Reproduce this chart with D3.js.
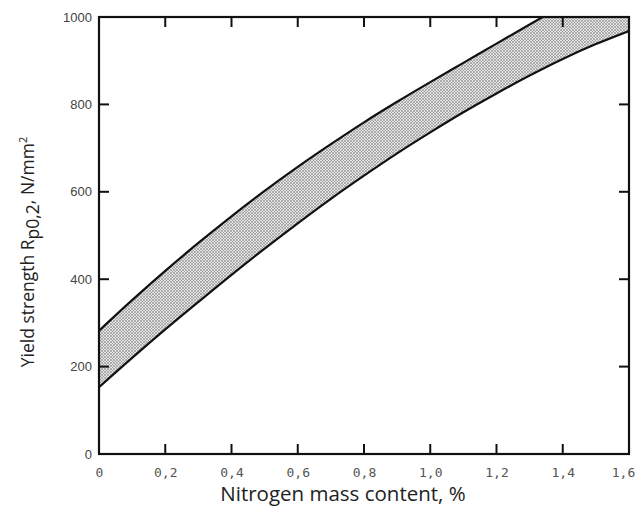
<!DOCTYPE html>
<html>
<head>
<meta charset="utf-8">
<script src="https://cdn.jsdelivr.net/npm/d3@7"></script>
<style>
  body { margin: 0; background: #fff; }
</style>
</head>
<body>
<div id="chart"></div>
<script>
// nitrogen content (%) and the two bounds of the yield strength band (N/mm2)
const nitrogen = [0, 0.1, 0.2, 0.3, 0.4, 0.5, 0.6, 0.7, 0.8, 0.9, 1.0, 1.1, 1.2, 1.3, 1.4, 1.5, 1.6];
const upperBound = [282, 352, 419, 483, 544, 602, 657, 709, 759, 806, 851, 895, 939, 983, 1026, 1069, 1112];
const lowerBound = [153, 220, 285, 348, 410, 470, 528, 584, 637, 688, 736, 782, 825, 866, 904, 938, 968];
const xTicks = [0, 0.2, 0.4, 0.6, 0.8, 1.0, 1.2, 1.4, 1.6];
const yTicks = [0, 200, 400, 600, 800, 1000];

const width = 636;
const height = 506;
const plotLeft = 99, plotRight = 629, plotTop = 17, plotBottom = 454;
const tickLen = 10;

const svg = d3.select("#chart").append("svg")
    .attr("width", width)
    .attr("height", height);

const defs = svg.append("defs");
const pat = defs.append("pattern")
    .attr("id", "hatch")
    .attr("patternUnits", "userSpaceOnUse")
    .attr("width", 3)
    .attr("height", 3);
pat.append("rect").attr("width", 3).attr("height", 3).attr("fill", "#e4e4e4");
pat.append("path").attr("d", "M0,0L3,3M3,0L0,3").attr("stroke", "#8a8a8a").attr("stroke-width", 0.6);

defs.append("clipPath").attr("id", "plotClip")
    .append("rect")
    .attr("x", plotLeft).attr("y", plotTop)
    .attr("width", plotRight - plotLeft).attr("height", plotBottom - plotTop);

const x = d3.scaleLinear().domain([0, 1.6]).range([plotLeft, plotRight]);
const y = d3.scaleLinear().domain([0, 1000]).range([plotBottom, plotTop]);

const rows = nitrogen.map((n, i) => ({ n: n, hi: upperBound[i], lo: lowerBound[i] }));

const plot = svg.append("g").attr("clip-path", "url(#plotClip)");

plot.append("path")
    .attr("fill", "url(#hatch)")
    .attr("d", d3.area()
        .x(d => x(d.n))
        .y0(d => y(d.lo))
        .y1(d => y(d.hi))
        .curve(d3.curveMonotoneX)(rows));

const lineOf = key => d3.line().x(d => x(d.n)).y(d => y(d[key])).curve(d3.curveMonotoneX);

plot.append("path").attr("fill", "none").attr("stroke", "#111").attr("stroke-width", 2.2)
    .attr("d", lineOf("hi")(rows));
plot.append("path").attr("fill", "none").attr("stroke", "#111").attr("stroke-width", 2.2)
    .attr("d", lineOf("lo")(rows));

// axes: labels from d3 axis, inward ticks drawn separately
const fmtX = d => d === 0 ? "0" : d.toFixed(1).replace(".", ",");

const axB = svg.append("g").attr("transform", `translate(0,${plotBottom})`)
    .call(d3.axisBottom(x).tickValues(xTicks).tickSize(0).tickPadding(14).tickFormat(fmtX));
const axL = svg.append("g").attr("transform", `translate(${plotLeft},0)`)
    .call(d3.axisLeft(y).tickValues(yTicks).tickSize(0).tickPadding(7).tickFormat(d3.format("d")));

axB.select(".domain").remove();
axL.select(".domain").remove();

const inner = xTicks.slice(1, -1);
const innerY = yTicks.slice(1, -1);
const ticks = svg.append("g").attr("stroke", "#111").attr("stroke-width", 2);
ticks.selectAll(".tb").data(inner).join("line").attr("class", "tb")
    .attr("x1", d => x(d)).attr("x2", d => x(d))
    .attr("y1", plotBottom).attr("y2", plotBottom - tickLen);
ticks.selectAll(".tt").data(inner).join("line").attr("class", "tt")
    .attr("x1", d => x(d)).attr("x2", d => x(d))
    .attr("y1", plotTop).attr("y2", plotTop + tickLen);
ticks.selectAll(".tl").data(innerY).join("line").attr("class", "tl")
    .attr("x1", plotLeft).attr("x2", plotLeft + tickLen)
    .attr("y1", d => y(d)).attr("y2", d => y(d));
ticks.selectAll(".tr").data(innerY).join("line").attr("class", "tr")
    .attr("x1", plotRight).attr("x2", plotRight - tickLen)
    .attr("y1", d => y(d)).attr("y2", d => y(d));

// frame
svg.append("rect")
    .attr("x", plotLeft).attr("y", plotTop)
    .attr("width", plotRight - plotLeft).attr("height", plotBottom - plotTop)
    .attr("fill", "none")
    .attr("stroke", "#111")
    .attr("stroke-width", 2.2);

axB.selectAll(".tick text")
    .attr("font-family", "DejaVu Sans Mono")
    .attr("font-size", 13)
    .attr("fill", "#555")
    .attr("dx", d => d === 1.6 ? -6 : 0);
axL.selectAll(".tick text")
    .attr("font-family", "Liberation Sans")
    .attr("font-size", 13)
    .attr("fill", "#444");

// axis titles
svg.append("text")
    .attr("x", 343)
    .attr("y", 501)
    .attr("text-anchor", "middle")
    .attr("font-family", "Open Sans")
    .attr("font-size", 20.5)
    .attr("fill", "#222")
    .text("Nitrogen mass content, %");

const yTitle = svg.append("text")
    .attr("transform", "translate(34,252) rotate(-90)")
    .attr("text-anchor", "middle")
    .attr("font-family", "Open Sans")
    .attr("font-size", 17.5)
    .attr("fill", "#222");
yTitle.append("tspan").text("Yield strength R");
yTitle.append("tspan").attr("dy", 5).text("p0,2");
yTitle.append("tspan").attr("dy", -5).text(", N/mm");
yTitle.append("tspan").attr("dy", -7).attr("font-size", 11).text("2");
</script>
</body>
</html>
